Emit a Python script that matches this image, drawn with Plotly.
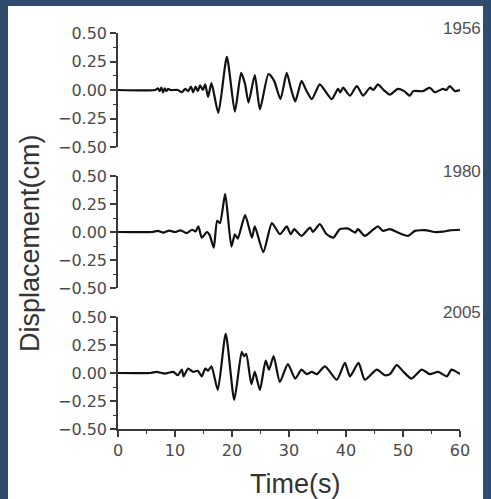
import plotly.graph_objects as go

# ---------------- data ----------------
years = ["1956", "1980", "2005"]

t_1956 = [0, 6.5, 7.0, 7.3, 7.6, 7.9, 8.2, 8.5, 8.8, 9.2, 10.5, 11.2, 11.8, 12.3, 12.8,
          13.2, 13.6, 14.0, 14.4, 14.9, 15.3, 15.8, 16.4, 17.6, 19.1, 20.5, 21.6, 22.3,
          22.9, 24.0, 24.9, 26.4, 27.4, 28.5, 29.6, 30.3, 31.1, 32.2, 33.0, 34.0, 35.4,
          36.5, 37.5, 38.6, 39.0, 39.5, 40.7, 41.9, 43.0, 44.2, 44.8, 45.6, 46.6, 47.7,
          49.1, 50.2, 51.2, 51.8, 53.5, 54.7, 55.6, 57.0, 57.6, 58.2, 59.1, 60.0]
d_1956 = [0, 0, 0.015, -0.01, 0.02, -0.02, 0.015, -0.01, 0.01, 0, 0, -0.02, 0.01, -0.01, 0.03,
          -0.02, 0.03, -0.01, 0.04, 0.0, 0.05, -0.06, 0.06, -0.20, 0.29, -0.19, 0.15, 0.05,
          -0.11, 0.13, -0.17, 0.14, 0.08, -0.08, 0.15, 0.02, -0.10, 0.08, 0.0, -0.08, 0.05,
          -0.02, -0.08, 0.01, -0.02, 0.02, -0.05, 0.035, -0.05, 0.02, 0.0, 0.05, 0.0, -0.04,
          0.01, -0.01, -0.05, -0.01, -0.01, 0.02, -0.02, 0.01, 0.0, 0.035, -0.01, 0.0]

t_1980 = [0, 6.0, 7.0, 8.0, 9.0, 10.0, 11.0, 12.0, 13.0, 13.6, 14.1, 14.7, 15.6, 16.1, 16.8,
          17.4, 17.9, 18.8, 19.9, 20.5, 21.0, 22.3, 23.5, 24.0, 25.5, 27.0, 28.4, 29.6,
          30.3, 30.9, 32.2, 33.7, 34.2, 35.4, 36.6, 37.8, 38.9, 40.4, 41.6, 42.1, 43.3,
          44.5, 45.6, 46.5, 47.7, 49.1, 50.9, 52.1, 54.2, 55.5, 57.0, 58.2, 60.0]
d_1980 = [0, 0, 0.01, -0.005, 0.012, 0.0, 0.015, -0.01, 0.02, 0.005, 0.05, -0.05, 0.0, -0.03, -0.14,
          0.10, 0.08, 0.34, -0.13, -0.02, -0.06, 0.15, -0.05, 0.05, -0.18, 0.08, -0.02, 0.05,
          -0.02, 0.025, -0.035, 0.04, 0.0, 0.07, -0.02, -0.05, 0.025, 0.03, -0.005, 0.025, -0.035,
          0.01, 0.05, 0.01, 0.025, -0.005, -0.035, 0.01, 0.015, 0.0, 0.003, 0.015, 0.02]

t_2005 = [0, 5.6, 6.8, 8.2, 9.7, 10.5, 11.2, 11.5, 12.3, 13.2, 14.0, 14.7, 15.3, 15.8, 16.4,
          17.5, 18.9, 20.4, 21.7, 22.1, 22.5, 23.4, 24.0, 24.9, 25.9, 26.5, 27.3, 28.4,
          29.8, 31.1, 32.2, 33.1, 34.0, 34.9, 36.3, 38.4, 39.8, 40.7, 42.2, 43.3, 45.4,
          46.8, 47.7, 48.9, 50.1, 51.5, 53.3, 54.7, 56.2, 57.7, 58.5, 59.4, 60.0]
d_2005 = [0, 0, 0.01, -0.005, 0.01, -0.02, 0.03, -0.03, 0.04, 0.01, 0.02, -0.03, 0.04, 0.02, 0.06,
          -0.15, 0.35, -0.24, 0.19, 0.15, 0.17, -0.10, 0.01, -0.15, 0.11, 0.03, 0.15, -0.08,
          0.08, -0.05, 0.03, -0.01, 0.01, -0.01, 0.06, -0.06, 0.09, -0.03, 0.09, -0.06, 0.03,
          -0.02, -0.01, 0.07, 0.01, -0.05, 0.03, -0.01, 0.01, -0.03, 0.03, 0.01, -0.01]

y_ticks = [-0.5, -0.25, 0.0, 0.25, 0.5]
x_ticks = [0, 10, 20, 30, 40, 50, 60]

# ---------------- layout helpers ----------------
W, H = 491, 499
def px_x(p):
    return p / W
def px_y(p):
    return 1 - p / H

panels = [(33, 147), (176, 288), (317, 429)]  # top/bottom pixel of each panel
x_dom = [px_x(118), px_x(460)]
series = [(t_1956, d_1956), (t_1980, d_1980), (t_2005, d_2005)]

AX = "#3a3a3a"
TXT = "#4a4a4a"
FONT = "Liberation Sans, Arial, sans-serif"
TICKFONT = "DejaVu Sans, sans-serif"

fig = go.Figure()
layout = dict(
    template="none",
    width=W, height=H, autosize=False,
    margin=dict(l=0, r=0, t=0, b=0, pad=0, autoexpand=False),
    paper_bgcolor="#2f4b6d",
    plot_bgcolor="rgba(0,0,0,0)",
    showlegend=False,
    font=dict(family=FONT, color=TXT),
)

annotations = []
for i, ((tt, dd), (top, bot), yr) in enumerate(zip(series, panels, years)):
    n = "" if i == 0 else str(i + 1)
    fig.add_trace(go.Scatter(x=tt, y=dd, mode="lines",
                             line=dict(color="#111111", width=2.2, shape="spline", smoothing=0.6),
                             xaxis="x" + n, yaxis="y" + n, hoverinfo="skip"))
    last = (i == 2)
    layout["xaxis" + n] = dict(
        domain=x_dom, range=[0, 60], anchor="y" + n, automargin=False,
        visible=last, showgrid=False, zeroline=False,
        showline=True, linecolor=AX, linewidth=1.5,
        ticks="outside", ticklen=6, tickwidth=1.5, tickcolor=AX,
        tickvals=x_ticks, ticktext=[str(v) for v in x_ticks],
        tickfont=dict(size=16, color=TXT, family=TICKFONT),
        minor=dict(dtick=5, ticklen=3, tickwidth=1, tickcolor=AX, ticks="outside"),
    )
    layout["yaxis" + n] = dict(
        domain=[px_y(bot), px_y(top)], range=[-0.5, 0.5], anchor="x" + n, automargin=False,
        showgrid=False, zeroline=False,
        showline=True, linecolor=AX, linewidth=1.5,
        ticks="outside", ticklen=6, tickwidth=1.5, tickcolor=AX,
        tickvals=y_ticks, ticktext=[f"{v:.2f}".replace("-", "\u2212") for v in y_ticks],
        tickfont=dict(size=16, color=TXT, family=TICKFONT),
        minor=dict(dtick=0.125, ticklen=3, tickwidth=1, tickcolor=AX, ticks="outside"),
    )
    annotations.append(dict(text=yr, xref="paper", yref="paper",
                            x=px_x(483), y=px_y(top - 5), xanchor="right", yanchor="middle",
                            showarrow=False, font=dict(size=17, color="#505050", family=FONT)))

annotations.append(dict(text="Displacement(cm)", xref="paper", yref="paper",
                        x=px_x(30), y=px_y(243), textangle=-90, xanchor="center", yanchor="middle",
                        showarrow=False, font=dict(size=27, color="#333333", family=FONT)))
annotations.append(dict(text="Time(s)", xref="paper", yref="paper",
                        x=px_x(295), y=px_y(484), xanchor="center", yanchor="middle",
                        showarrow=False, font=dict(size=27, color="#333333", family=FONT)))
layout["annotations"] = annotations
layout["shapes"] = [dict(type="rect", xref="paper", yref="paper", layer="below",
                         x0=px_x(8), x1=px_x(483), y0=0, y1=px_y(6),
                         fillcolor="white", line=dict(width=0))]

fig.update_layout(**layout)
fig.write_html("out.html")
